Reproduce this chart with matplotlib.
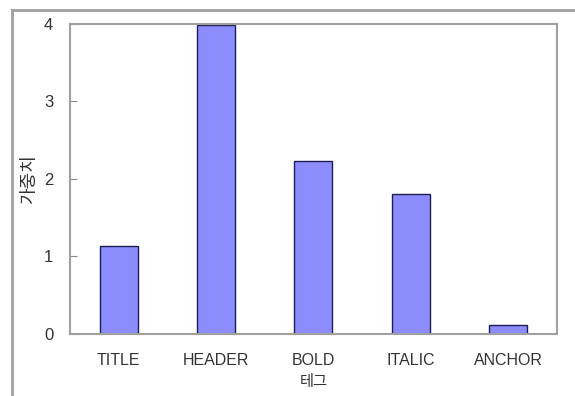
import matplotlib.pyplot as plt
from matplotlib.lines import Line2D

# ----- Data -----
tags = ["TITLE", "HEADER", "BOLD", "ITALIC", "ANCHOR"]
weights = [1.14, 3.99, 2.23, 1.81, 0.12]
y_ticks = [0, 1, 2, 3, 4]

plt.rcParams['font.family'] = ['Liberation Sans', 'Noto Sans CJK KR', 'DejaVu Sans']

fig = plt.figure(figsize=(5.75, 3.96), dpi=100)
ax = fig.add_axes([0.1217, 0.1566, 0.847, 0.783])

ax.bar(range(len(tags)), weights, width=0.39,
       color='#8c8cff', edgecolor='#1c1c50', linewidth=1.0)

ax.set_xlim(-0.5, len(tags) - 0.5)
ax.set_ylim(0, 4)
ax.set_yticks(y_ticks)
ax.set_xticks(range(len(tags)))
ax.set_xticklabels(tags)
ax.tick_params(axis='x', length=0, pad=14, labelsize=11.5, colors='#333333')
ax.tick_params(axis='y', direction='in', length=5, width=0.8, color='#888888',
               pad=12, labelsize=12, labelcolor='#333333')

for spine in ax.spines.values():
    spine.set_color('#a0a0a0')
    spine.set_linewidth(1.5)

ax.set_xlabel("테그", family=['Noto Sans CJK KR', 'DejaVu Sans'],
              fontsize=11, color='#333333', labelpad=3)
ax.set_ylabel("가중치", family=['Noto Sans CJK KR', 'DejaVu Sans'],
              fontsize=13, color='#333333', labelpad=4)

# outer chart frame
fig.add_artist(Line2D([0.0209, 0.0209], [0.0, 0.9747], transform=fig.transFigure,
                      color='#a0a0a0', linewidth=2.0))
fig.add_artist(Line2D([0.0209, 1.0], [0.9747, 0.9747], transform=fig.transFigure,
                      color='#a0a0a0', linewidth=2.0))

fig.savefig("out.png", dpi=100)
